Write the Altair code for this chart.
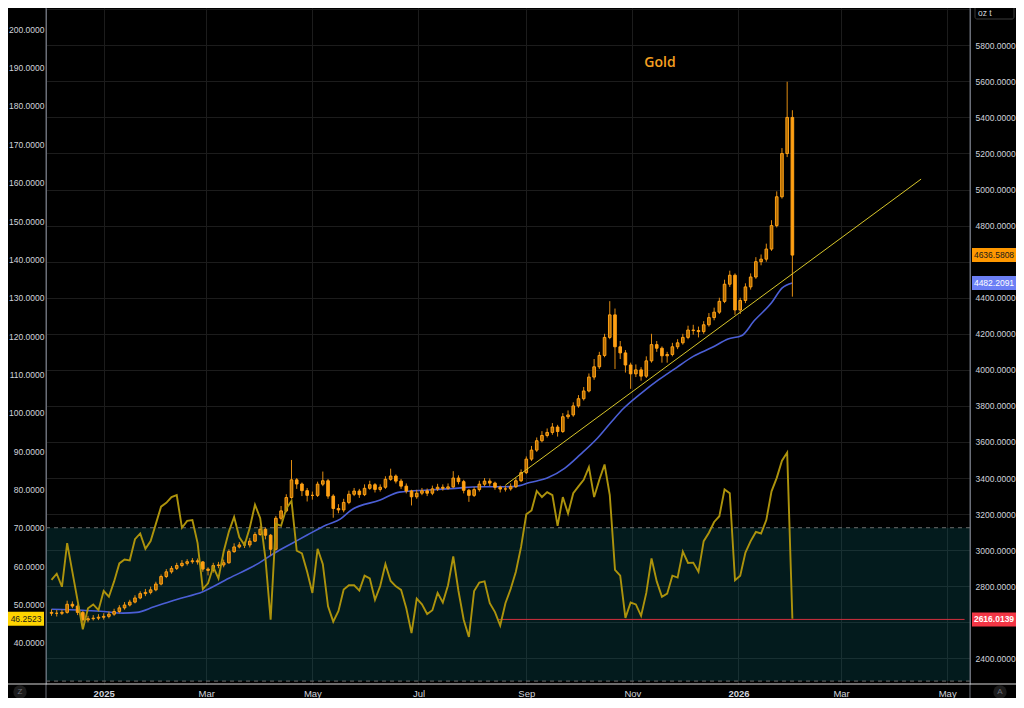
import altair as alt
import pandas as pd

# ---------------- data ----------------
candle_start = "2024-12-02"          # one candle every 3 days
open_first = 2655
close = [2650, 2650, 2655, 2700, 2690, 2655, 2613, 2620, 2623, 2628,
         2633, 2645, 2660, 2680, 2696, 2712, 2735, 2759, 2766, 2780,
         2812, 2854, 2880, 2899, 2915, 2927, 2936, 2941, 2935, 2895,
         2888, 2915, 2918, 2930, 2992, 3018, 3029, 3029, 3050, 3087,
         3116, 3083, 3005, 3177, 3218, 3292, 3390, 3367, 3330, 3304,
         3304, 3366, 3385, 3300, 3231, 3223, 3265, 3310, 3328, 3308,
         3343, 3363, 3337, 3349, 3393, 3411, 3383, 3355, 3328, 3296,
         3316, 3329, 3316, 3340, 3349, 3343, 3351, 3400, 3380, 3332,
         3304, 3336, 3366, 3383, 3372, 3349, 3339, 3340, 3352, 3385,
         3430, 3505, 3555, 3607, 3636, 3653, 3683, 3658, 3740, 3750,
         3800, 3840, 3883, 3960, 4017, 4080, 4180, 4305, 4128, 4094,
         4027, 3978, 4000, 3965, 4050, 4140, 4120, 4078, 4085, 4128,
         4150, 4180, 4221, 4218, 4212, 4250, 4290, 4320, 4380, 4475,
         4525, 4332, 4385, 4460, 4515, 4600, 4614, 4670, 4800, 4960,
         5200, 5400, 4636.5808]
high = [2672, 2668, 2670, 2720, 2716, 2700, 2662, 2636, 2640, 2645,
        2650, 2660, 2675, 2695, 2712, 2725, 2750, 2772, 2785, 2798,
        2825, 2865, 2895, 2912, 2930, 2945, 2950, 2956, 2954, 2940,
        2905, 2930, 2935, 2948, 3005, 3038, 3045, 3048, 3068, 3100,
        3135, 3125, 3090, 3190, 3245, 3310, 3500, 3400, 3375, 3345,
        3325, 3380, 3436, 3395, 3310, 3255, 3285, 3330, 3345, 3340,
        3365, 3385, 3372, 3365, 3410, 3452, 3420, 3395, 3370, 3335,
        3335, 3345, 3342, 3358, 3368, 3365, 3370, 3438, 3415, 3390,
        3340, 3350, 3385, 3400, 3398, 3380, 3358, 3358, 3370, 3400,
        3448, 3520, 3578, 3625, 3660, 3675, 3705, 3695, 3760, 3775,
        3820, 3860, 3905, 3980, 4060, 4100, 4200, 4381, 4340, 4160,
        4110, 4040, 4030, 4015, 4075, 4200, 4160, 4130, 4100, 4150,
        4170, 4200, 4245, 4250, 4240, 4270, 4315, 4345, 4400, 4500,
        4550, 4535, 4400, 4480, 4535, 4625, 4640, 4700, 4830, 4990,
        5230, 5598, 5440]
low = [2636, 2632, 2640, 2648, 2678, 2640, 2585, 2600, 2610, 2612,
       2615, 2622, 2636, 2650, 2670, 2688, 2705, 2728, 2745, 2755,
       2772, 2805, 2845, 2870, 2890, 2905, 2915, 2925, 2920, 2880,
       2860, 2875, 2900, 2905, 2925, 2985, 3010, 3012, 3015, 3045,
       3080, 3060, 2970, 2998, 3165, 3210, 3285, 3340, 3300, 3270,
       3280, 3295, 3355, 3285, 3180, 3205, 3210, 3255, 3300, 3290,
       3300, 3335, 3320, 3325, 3340, 3385, 3370, 3340, 3315, 3248,
       3285, 3305, 3300, 3305, 3328, 3330, 3335, 3345, 3365, 3315,
       3268, 3295, 3325, 3355, 3355, 3335, 3320, 3325, 3330, 3345,
       3378, 3422, 3495, 3545, 3598, 3625, 3640, 3630, 3650, 3728,
       3740, 3790, 3830, 3875, 3945, 4005, 4070, 4170, 4005, 4060,
       3985, 3895, 3960, 3940, 3955, 4040, 4100, 4040, 4040, 4075,
       4115, 4140, 4170, 4195, 4180, 4200, 4240, 4275, 4310, 4370,
       4460, 4305, 4310, 4370, 4445, 4505, 4580, 4600, 4660, 4790,
       4950, 5180, 4406]
rsi = [56.4, 58.0, 54.6, 66.0, 58.5, 51.0, 43.5, 49.0, 50.0, 48.5,
       53.5, 52.0, 56.0, 60.7, 61.7, 61.5, 67.0, 68.5, 64.5, 66.5,
       71.0, 75.5, 76.5, 78.0, 78.5, 70.0, 71.8, 72.0, 66.0, 54.0,
       55.5, 59.8, 56.8, 63.8, 69.0, 72.8, 67.5, 65.5, 70.0, 76.0,
       72.5, 62.0, 46.0, 71.0, 70.5, 75.0, 77.0, 64.0, 63.3, 58.5,
       53.0, 64.5, 60.5, 49.5, 45.5, 48.3, 53.9, 55.0, 55.0, 53.6,
       57.5, 56.8, 51.2, 54.8, 60.5, 56.1, 54.7, 53.8, 49.0, 42.5,
       51.5, 50.0, 47.5, 48.5, 53.0, 50.5, 55.0, 62.5, 53.5, 46.0,
       41.5, 53.5, 55.7, 56.0, 50.3, 48.0, 44.5, 50.3, 54.0, 58.5,
       65.0, 73.5, 74.5, 79.6, 78.0, 79.3, 78.5, 70.5, 78.0, 73.7,
       79.0, 80.8, 82.5, 85.8, 78.0, 82.5, 86.5, 78.5, 59.0, 57.5,
       46.5, 50.5, 50.0, 47.0, 53.0, 62.0, 56.0, 52.0, 52.8, 57.5,
       57.0, 63.8, 60.8, 60.9, 58.5, 66.5, 68.7, 71.5, 73.0, 80.0,
       79.0, 56.3, 57.5, 63.5, 66.5, 68.9, 68.5, 72.0, 79.5, 83.0,
       87.5, 89.6, 46.2523]

ma_dates = ["2024-12-02", "2024-12-20", "2025-01-01", "2025-01-12", "2025-01-20",
            "2025-01-30", "2025-02-12", "2025-02-27", "2025-03-14", "2025-03-31",
            "2025-04-09", "2025-04-21", "2025-04-28", "2025-05-09", "2025-05-17",
            "2025-05-23", "2025-06-09", "2025-06-20", "2025-07-07", "2025-07-22",
            "2025-08-05", "2025-08-19", "2025-08-26", "2025-09-03", "2025-09-13",
            "2025-09-23", "2025-10-02", "2025-10-12", "2025-10-20", "2025-10-27",
            "2025-11-06", "2025-11-16", "2025-11-27", "2025-12-06", "2025-12-17",
            "2025-12-26", "2026-01-03", "2026-01-10", "2026-01-20", "2026-01-26",
            "2026-02-01"]
ma_values = [2672, 2666, 2660, 2651, 2655, 2686, 2727, 2770, 2844, 2927,
             2983, 3047, 3084, 3140, 3172, 3220, 3278, 3322, 3334, 3343,
             3352, 3352, 3354, 3375, 3400, 3454, 3530, 3622, 3712, 3787,
             3870, 3944, 4017, 4075, 4125, 4171, 4191, 4272, 4372, 4453,
             4482.2091]

trend_dates = ["2025-08-20", "2026-04-16"]
trend_values = [3361, 5058]

band_values = [30, 70]
level_value = 2616.0139
level_dates = ["2025-08-16", "2026-05-11"]

price_last = 4636.5808
ma_last = 4482.2091
rsi_last = 46.2523

right_ticks = list(range(2400, 6001, 200))
left_ticks = list(range(40, 201, 10))
month_ticks = [(2025, 1), (2025, 3), (2025, 5), (2025, 7), (2025, 9),
               (2025, 11), (2026, 1), (2026, 3), (2026, 5)]

# ---------------- tables ----------------
dates = pd.date_range(candle_start, periods=len(close), freq="3D").strftime("%Y-%m-%d")
opens = [open_first] + close[:-1]
candles = pd.DataFrame({"date": dates, "open": opens, "close": close,
                        "high": high, "low": low, "rsi": rsi})
ma_df = pd.DataFrame({"date": ma_dates, "ma": ma_values})
trend_df = pd.DataFrame({"date": trend_dates, "v": trend_values})
band_df = pd.DataFrame({"lo": [band_values[0]], "hi": [band_values[1]]})
dash_df = pd.DataFrame({"v": band_values})
level_df = pd.DataFrame({"s": [level_dates[0]], "e": [level_dates[1]], "v": [level_value]})
one = pd.DataFrame({"a": [0]})

# ---------------- styling ----------------
W, H = 924, 676
FONT = "Liberation Sans"
LABEL = "#d1d4dc"
GRID = "#1c1c1c"
ORANGE = "#ffa014"
BLUE = "#4b5fd6"

x_scale = alt.Scale(type="utc", nice=False,
                    domain=[alt.DateTime(year=2024, month=12, date=1, hours=17, utc=True),
                            alt.DateTime(year=2026, month=5, date=11, hours=6, utc=True)])
price_scale = alt.Scale(domain=[2257.8, 6006.9], nice=False, zero=False)
rsi_scale = alt.Scale(domain=[29.24, 205.56], nice=False, zero=False)

x_axis = alt.Axis(
    values=[alt.DateTime(year=y, month=m, date=1, utc=True) for y, m in month_ticks],
    labelExpr="utcmonth(datum.value) == 0 ? utcFormat(datum.value, '%Y') : utcFormat(datum.value, '%b')",
    labelFontWeight={"condition": {"test": "utcmonth(datum.value) == 0", "value": "bold"}, "value": "normal"},
    grid=True, gridColor=GRID, domain=False, ticks=False, labelColor=LABEL,
    labelFontSize=9.5, labelFont=FONT, labelPadding=4, labelOverlap=False, title=None)
price_axis = alt.Axis(
    orient="right", values=right_ticks,
    labelExpr="(datum.value > 5900 || datum.value == 2600 || datum.value == 4600) ? '' : format(datum.value, '.4f')",
    grid=True, gridColor=GRID, domainColor="#6b6e78", ticks=False, labelColor=LABEL,
    labelFontSize=8.5, labelFont=FONT, labelPadding=5, labelOverlap=False, title=None)
rsi_axis = alt.Axis(
    orient="left", values=left_ticks, format=".4f", grid=False,
    domainColor="#6b6e78", ticks=False, labelColor=LABEL,
    labelFontSize=8.5, labelFont=FONT, labelPadding=2, labelOverlap=False, title=None)

X = lambda f: alt.X(f, scale=x_scale, axis=x_axis)

# ---------------- layers ----------------
band = alt.Chart(band_df).mark_rect(color="#0a6d75", opacity=0.25).encode(
    x=alt.value(0), x2=alt.value(W),
    y=alt.Y("lo:Q", scale=rsi_scale, axis=rsi_axis), y2="hi:Q")

dashes = alt.Chart(dash_df).mark_rule(color="#6e6e6e", strokeDash=[4, 4], strokeWidth=1).encode(
    y=alt.Y("v:Q", scale=rsi_scale, axis=None))

level = alt.Chart(level_df).mark_rule(color="#d2303e", strokeWidth=1).encode(
    x=X("s:T"), x2="e:T", y=alt.Y("v:Q", scale=price_scale, axis=None))

ma = alt.Chart(ma_df).mark_line(color=BLUE, strokeWidth=1.6, interpolate="monotone").encode(
    x=X("date:T"), y=alt.Y("ma:Q", scale=price_scale, axis=None))

wicks = alt.Chart(candles).mark_rule(color="#e08c12", strokeWidth=1).encode(
    x=X("date:T"), y=alt.Y("low:Q", scale=price_scale, axis=None), y2="high:Q")

bodies = alt.Chart(candles).mark_bar(width=2.6, strokeWidth=1, stroke=ORANGE).encode(
    x=X("date:T"), y=alt.Y("open:Q", scale=price_scale, axis=price_axis), y2="close:Q",
    fill=alt.condition("datum.close >= datum.open", alt.value("#b06c04"), alt.value(ORANGE)))

rsi_line = alt.Chart(candles).mark_line(color="#ad930c", strokeWidth=1.9).encode(
    x=X("date:T"), y=alt.Y("rsi:Q", scale=rsi_scale, axis=None))

trend = alt.Chart(trend_df).mark_line(color="#d8c62a", strokeWidth=1).encode(
    x=X("date:T"), y=alt.Y("v:Q", scale=price_scale, axis=None))


def value_box(value, scale, fill, text_color, x0, x1, weight="normal"):
    df = pd.DataFrame({"v": [value], "t": [f"{value:.4f}"]})
    base = alt.Chart(df)
    rect = base.mark_rect(fill=fill, yOffset=-7, y2Offset=7).encode(
        x=alt.value(x0), x2=alt.value(x1),
        y=alt.Y("v:Q", scale=scale, axis=None), y2="v:Q")
    txt = base.mark_text(color=text_color, fontSize=8.5, font=FONT, fontWeight=weight,
                         align="center", baseline="middle").encode(
        x=alt.value((x0 + x1) / 2), y=alt.Y("v:Q", scale=scale, axis=None), text="t:N")
    return [rect, txt]


boxes = []
boxes += value_box(price_last, price_scale, "#ff9800", "#1a1a1a", 926, 970)
boxes += value_box(ma_last, price_scale, "#6b7ff5", "#ffffff", 926, 970)
boxes += value_box(level_value, price_scale, "#f23645", "#ffffff", 926, 970, "bold")
boxes += value_box(rsi_last, rsi_scale, "#ffd400", "#1a1a1a", -38, -2)

title = alt.Chart(one).mark_text(text="Gold", color="#f5a020", fontSize=14, fontWeight=600,
                                 font="Open Sans", align="center", baseline="middle").encode(
    x=alt.value(614), y=alt.value(55))

frame_left = alt.Chart(one).mark_rule(color="#6b6e78").encode(
    x=alt.value(0), y=alt.value(0), y2=alt.value(700))
frame_right = alt.Chart(one).mark_rule(color="#6b6e78").encode(
    x=alt.value(W), y=alt.value(0), y2=alt.value(700))
frame_bottom = alt.Chart(one).mark_rule(color="#d8d8d8").encode(
    x=alt.value(-40), x2=alt.value(W + 50), y=alt.value(H))

unit_box = alt.Chart(one).mark_rect(fill="#000000", stroke="#3a3a3a", cornerRadius=2).encode(
    x=alt.value(929), x2=alt.value(968), y=alt.value(-2), y2=alt.value(11))
unit_txt = alt.Chart(one).mark_text(text="oz t", color=LABEL, fontSize=8.5, font=FONT,
                                    align="left", baseline="middle").encode(
    x=alt.value(932), y=alt.value(4.5))

circ = alt.Chart(pd.DataFrame({"x": [-26, 954], "t": ["Z", "A"]})).mark_circle(
    size=180, color="#1c1c1c", opacity=1).encode(x=alt.X("x:Q", scale=None), y=alt.value(684))
circ_t = alt.Chart(pd.DataFrame({"x": [-26, 954], "t": ["Z", "A"]})).mark_text(
    color="#6b6e78", fontSize=8, font=FONT, baseline="middle").encode(
    x=alt.X("x:Q", scale=None), y=alt.value(684), text="t:N")

chart = alt.layer(
    band, dashes, level, ma, wicks, bodies, rsi_line, trend,
    *boxes, title, frame_left, frame_right, frame_bottom, unit_box, unit_txt, circ, circ_t
).resolve_scale(y="independent").properties(
    width=W, height=H,
    padding={"left": 38, "top": 0, "right": 46, "bottom": 14},
    autosize=alt.AutoSizeParams(type="none"),
    background="#000000",
).configure_view(stroke=None)

chart.save("out.html", embed_options={"renderer": "svg", "actions": False})
